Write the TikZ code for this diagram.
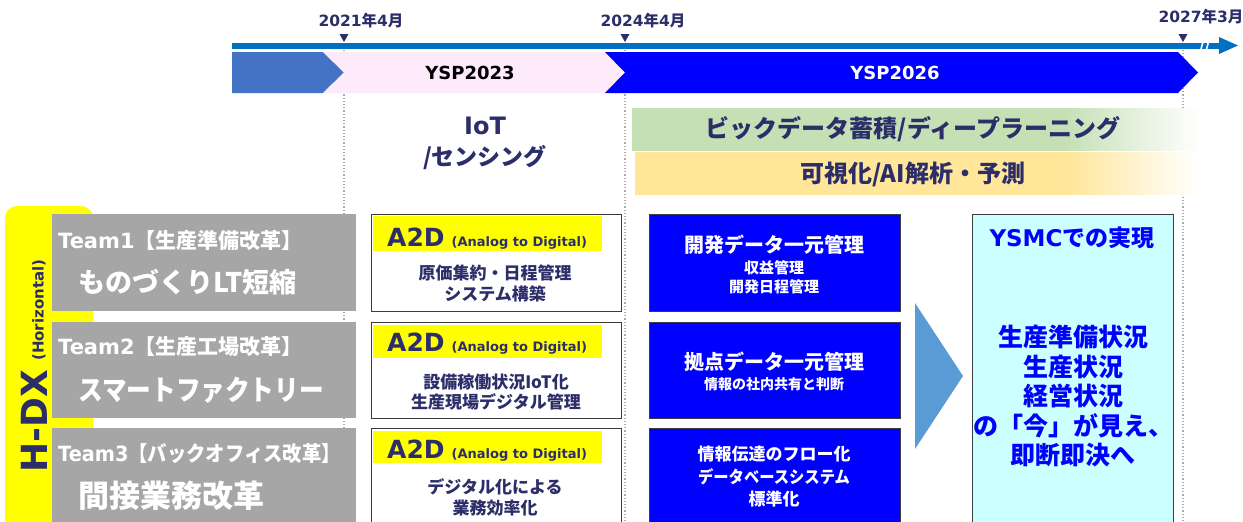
\documentclass[tikz,border=0pt]{standalone}
\usepackage{fontspec}
\setmainfont{Noto Sans CJK JP}
\newfontfamily\vd{DejaVu Sans}
\newcommand\fsz[1]{\fontsize{#1}{#1}\selectfont}
\newcommand\hsc[2]{\scalebox{#1}[1]{#2}}
\definecolor{navytxt}{RGB}{44,46,106}
\definecolor{tlblue}{RGB}{0,112,192}
\definecolor{phaseone}{RGB}{68,114,196}
\definecolor{pinkc}{RGB}{253,234,250}
\definecolor{blueb}{RGB}{0,0,255}
\definecolor{grayb}{RGB}{166,166,166}
\definecolor{greenb}{RGB}{197,224,180}
\definecolor{yellb}{RGB}{255,230,153}
\definecolor{arrowc}{RGB}{91,155,213}
\definecolor{cyanb}{RGB}{204,255,255}
\definecolor{hyell}{RGB}{255,255,0}
\definecolor{bordc}{RGB}{60,60,60}
\definecolor{dotc}{RGB}{170,170,170}
\pgfdeclarehorizontalshading{greenfade}{100bp}{color(0bp)=(greenb); color(25bp)=(greenb); color(63bp)=(greenb); color(75bp)=(white); color(100bp)=(white)}
\pgfdeclarehorizontalshading{yellfade}{100bp}{color(0bp)=(yellb); color(25bp)=(yellb); color(63bp)=(yellb); color(75bp)=(white); color(100bp)=(white)}
\tikzset{
  lbl/.style={inner sep=0pt, font=\bfseries},
  boxa/.style={draw=bordc, line width=0.9pt, anchor=north west, inner sep=0pt, minimum width=250, minimum height=97},
  teamnote/.style={lbl, text=white, anchor=west},
  guide/.style={dotc, dotted, line width=1.2pt},
  marker/.style={fill=navytxt, draw=none},
}
\begin{document}
\begin{tikzpicture}[x=1pt,y=-1pt]
\useasboundingbox (0,0) rectangle (1243,522);
\clip (0,0) rectangle (1243,522);
% guides
\coordinate (gA1) at (344,40); \coordinate (gA2) at (344,522);
\coordinate (gB1) at (625,40); \coordinate (gB2) at (625,522);
\coordinate (gC1) at (1183,40); \coordinate (gC2) at (1183,522);
\draw[guide] (gA1) -- (gA2);
\draw[guide] (gB1) -- (gB2);
\draw[guide] (gC1) -- (gC2);
% timeline
\fill[tlblue] (232,42.5) rectangle (1222,48.5);
\fill[tlblue] (1219,37) -- (1238,45.5) -- (1219,54) -- cycle;
\draw[white, line width=1.6pt] (1200.5,51) -- (1203.5,40);
\draw[white, line width=1.6pt] (1206,51) -- (1209,40);
\fill[marker] (339.5,34) -- (348.5,34) -- (344,42) -- cycle;
\fill[marker] (620.5,34) -- (629.5,34) -- (625,42) -- cycle;
\fill[marker] (1178.5,34) -- (1187.5,34) -- (1183,42) -- cycle;
\node[lbl, text=navytxt, font=\bfseries\fsz{15.5}] (d1) at (361,21) {{\vd 2021}年{\vd 4}月};
\node[lbl, text=navytxt, font=\bfseries\fsz{15.5}] (d2) at (643,21) {{\vd 2024}年{\vd 4}月};
\node[lbl, text=navytxt, font=\bfseries\fsz{15.5}] (d3) at (1201,17) {{\vd 2027}年{\vd 3}月};
% phases
\fill[phaseone] (232,52) -- (323,52) -- (344,72.5) -- (323,93) -- (232,93) -- cycle;
\fill[pinkc] (323,52) -- (605,52) -- (625,72.5) -- (605,93) -- (323,93) -- (344,72.5) -- cycle;
\fill[blueb] (605,52) -- (1178,52) -- (1198,72.5) -- (1178,93) -- (605,93) -- (625,72.5) -- cycle;
\node[lbl, text=black] (p1) at (470,73) {\vd\bfseries\fsz{18}YSP2023};
\node[lbl, text=white] (p2) at (895,73) {\vd\bfseries\fsz{18}YSP2026};
% IoT
\node[lbl, text=navytxt, align=center, font=\bfseries\fontsize{23}{31}\selectfont] (iot) at (485,143) {{\vd\fsz{24}IoT}\\/センシング};
% bands
\shade[shading=greenfade] (632,108) rectangle (1200,150);
\shade[shading=yellfade] (635,152) rectangle (1200,194);
\node[lbl, text=navytxt, font=\bfseries\fsz{24}] (bd) at (913,129) {ビックデータ蓄積/ディープラーニング};
\node[lbl, text=navytxt, font=\bfseries\fsz{24}] (ai) at (913,174) {可視化/AI解析・予測};
% H-DX
\fill[hyell, rounded corners=12pt] (5,540) -- (5,206) -- (93,206) -- (93,540) -- cycle;
\node[lbl, text=navytxt, rotate=90, anchor=base] (hdx) at (47,366) {{\vd\bfseries\fsz{36}H-DX}\hspace{9pt}\raisebox{3.5pt}{\vd\bfseries\fsz{15}(Horizontal)}};
% gray team boxes
\node[boxa, draw=none, fill=grayb, minimum width=304] (g1) at (52,214) {};
\node[boxa, draw=none, fill=grayb, minimum width=304, minimum height=96] (g2) at (52,322) {};
\node[boxa, draw=none, fill=grayb, minimum width=304, minimum height=110] (g3) at (52,428) {};
\node[teamnote, font=\bfseries\fsz{21}] (t1a) at (58,241) {{\vd Team1}【生産準備改革】};
\node[teamnote, font=\bfseries\fsz{27}] (t1b) at (78,282) {ものづくりLT短縮};
\node[teamnote, font=\bfseries\fsz{21}] (t2a) at (58,347) {{\vd Team2}【生産工場改革】};
\node[teamnote, font=\bfseries\fsz{28}] (t2b) at (78,390) {\hsc{0.88}{スマートファクトリー}};
\node[teamnote, font=\bfseries\fsz{21}] (t3a) at (58,454) {\hsc{0.92}{{\vd Team3}【バックオフィス改革】}};
\node[teamnote, font=\bfseries\fsz{31}] (t3b) at (78,496) {間接業務改革};
% A2D boxes
\node[boxa, fill=white] (a1) at (371,214) {};
\node[boxa, fill=white, minimum height=96] (a2) at (371,322) {};
\node[boxa, fill=white, minimum height=110] (a3) at (371,428) {};
\fill[hyell] (373,216) rectangle (602,251);
\fill[hyell] (373,325) rectangle (602,358);
\fill[hyell] (373,431) rectangle (602,463);
\node[lbl, text=navytxt, anchor=base west] (h1) at (387,246.5) {{\vd\bfseries\fsz{25}A2D}\hspace{7pt}{\vd\bfseries\fsz{13}(Analog to Digital)}};
\node[lbl, text=navytxt, anchor=base west] (h2) at (387,351.5) {{\vd\bfseries\fsz{25}A2D}\hspace{7pt}{\vd\bfseries\fsz{13}(Analog to Digital)}};
\node[lbl, text=navytxt, anchor=base west] (h3) at (387,458) {{\vd\bfseries\fsz{25}A2D}\hspace{7pt}{\vd\bfseries\fsz{13}(Analog to Digital)}};
\node[lbl, text=navytxt, font=\bfseries\fsz{17}] (a1l1) at (495,273) {原価集約・日程管理};
\node[lbl, text=navytxt, font=\bfseries\fsz{17}] (a1l2) at (495,294) {システム構築};
\node[lbl, text=navytxt, font=\bfseries\fsz{17}] (a2l1) at (496,382) {設備稼働状況IoT化};
\node[lbl, text=navytxt, font=\bfseries\fsz{17}] (a2l2) at (496,402) {生産現場デジタル管理};
\node[lbl, text=navytxt, font=\bfseries\fsz{17}] (a3l1) at (495,487) {デジタル化による};
\node[lbl, text=navytxt, font=\bfseries\fsz{17}] (a3l2) at (495,508) {業務効率化};
% blue boxes
\node[boxa, fill=blueb, minimum width=251] (b1) at (649,214) {};
\node[boxa, fill=blueb, minimum width=251, minimum height=96] (b2) at (649,322) {};
\node[boxa, fill=blueb, minimum width=251, minimum height=110] (b3) at (649,428) {};
\node[lbl, text=white, font=\bfseries\fsz{20}] (b1l1) at (774,245) {開発データ一元管理};
\node[lbl, text=white, font=\bfseries\fsz{15}] (b1l2) at (774,267.5) {収益管理};
\node[lbl, text=white, font=\bfseries\fsz{15}] (b1l3) at (774,287) {開発日程管理};
\node[lbl, text=white, font=\bfseries\fsz{20}] (b2l1) at (774,362) {拠点データ一元管理};
\node[lbl, text=white, font=\bfseries\fsz{14}] (b2l2) at (774,384) {情報の社内共有と判断};
\node[lbl, text=white, font=\bfseries\fsz{17}] (b3l1) at (774,454) {情報伝達のフロー化};
\node[lbl, text=white, font=\bfseries\fsz{17}] (b3l2) at (774,477) {\hsc{0.9}{データベースシステム}};
\node[lbl, text=white, font=\bfseries\fsz{17}] (b3l3) at (774,499) {標準化};
% big arrow
\fill[arrowc] (915,303) -- (963,376) -- (915,449) -- cycle;
% result box
\node[boxa, fill=cyanb, minimum width=201, minimum height=320] (c1) at (972,214) {};
\node[lbl, text=blueb, font=\bfseries\fsz{23}] (c1t) at (1072,238) {{\vd YSMC}での実現};
\node[lbl, text=blueb, align=center, font=\bfseries\fontsize{25}{29.5}\selectfont] (c1b) at (1073,396) {生産準備状況\\生産状況\\経営状況\\の「今」が見え、\\即断即決へ};
\end{tikzpicture}
\end{document}
